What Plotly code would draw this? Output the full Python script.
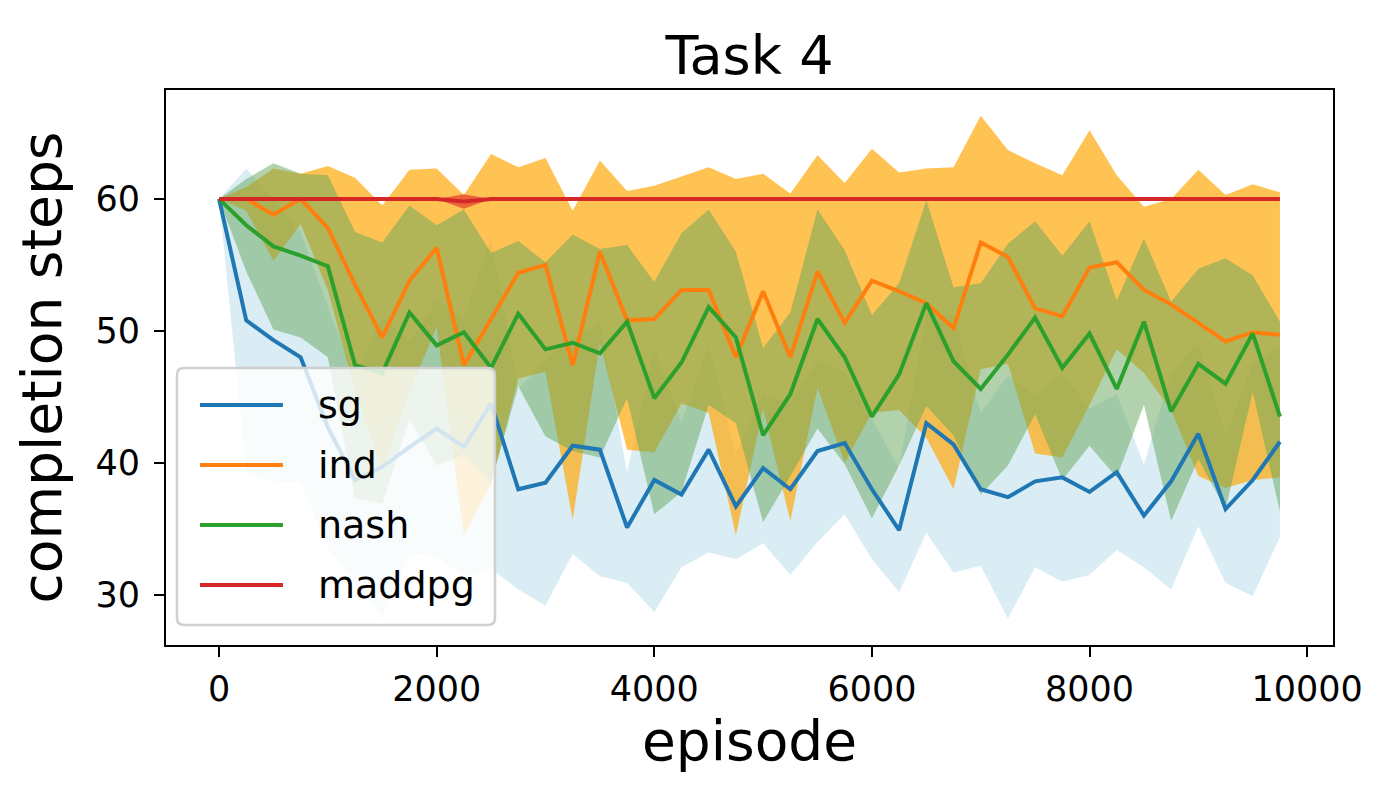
import numpy as np
import plotly.graph_objects as go

# episodes on the x axis
episodes = [0, 250, 500, 750, 1000, 1250, 1500, 1750, 2000, 2250,
            2500, 2750, 3000, 3250, 3500, 3750, 4000, 4250, 4500, 4750,
            5000, 5250, 5500, 5750, 6000, 6250, 6500, 6750, 7000, 7250,
            7500, 7750, 8000, 8250, 8500, 8750, 9000, 9250, 9500, 9750]

# mean completion steps and spread per method
sg_mean = [60.0, 50.8, 49.3, 48.0, 42.7, 38.7, 39.7, 41.2, 42.6, 41.2,
           44.5, 38.0, 38.5, 41.3, 41.0, 35.1, 38.7, 37.6, 41.0, 36.7,
           39.6, 38.0, 40.9, 41.5, 38.0, 34.9, 43.0, 41.4, 38.0, 37.4,
           38.6, 38.9, 37.8, 39.3, 36.0, 38.6, 42.2, 36.5, 38.7, 41.6]
sg_std = [0.0, 11.5, 10.7, 9.5, 9.1, 7.8, 11.4, 8.0, 9.7, 9.8,
          12.5, 7.6, 9.3, 8.2, 9.6, 4.2, 10.0, 5.5, 7.8, 4.0,
          5.7, 6.5, 6.9, 5.4, 5.3, 4.7, 8.3, 9.7, 5.8, 9.2,
          6.5, 7.9, 6.3, 5.9, 3.9, 8.2, 7.0, 5.6, 8.8, 7.2]

ind_mean = [60.0, 60.0, 58.8, 60.0, 57.8, 53.5, 49.5, 53.8, 56.3, 47.4,
            50.9, 54.4, 55.0, 47.4, 56.0, 50.8, 50.9, 53.1, 53.1, 48.0,
            53.0, 48.0, 54.5, 50.6, 53.8, 53.0, 52.1, 50.2, 56.7, 55.6,
            51.7, 51.1, 54.8, 55.2, 53.1, 52.0, 50.6, 49.2, 49.9, 49.7]
ind_std = [0.0, 0.9, 3.5, 1.9, 4.7, 8.1, 10.0, 8.4, 6.0, 12.9,
           12.5, 8.0, 8.1, 11.7, 6.9, 9.8, 10.1, 8.6, 9.3, 13.5,
           8.9, 12.4, 8.8, 10.6, 10.0, 9.0, 10.2, 12.2, 9.6, 8.1,
           11.0, 10.7, 10.4, 6.6, 6.3, 8.0, 11.6, 11.1, 11.2, 10.8]

nash_mean = [60.0, 58.0, 56.4, 55.7, 54.9, 47.4, 46.8, 51.4, 48.9, 49.9,
             47.2, 51.3, 48.6, 49.1, 48.3, 50.7, 44.9, 47.6, 51.8, 49.5,
             42.1, 45.2, 50.9, 48.0, 43.5, 46.7, 52.1, 47.7, 45.6, 48.2,
             51.0, 47.2, 49.8, 45.6, 50.7, 43.9, 47.5, 46.0, 49.8, 43.5]
nash_std = [0.0, 3.5, 6.3, 6.2, 6.9, 10.1, 9.9, 8.1, 9.1, 9.3,
            8.7, 5.5, 6.6, 8.2, 7.9, 5.8, 8.8, 9.8, 7.4, 6.5,
            6.6, 6.2, 8.3, 8.1, 7.7, 6.9, 7.8, 5.6, 8.0, 8.4,
            7.3, 8.5, 8.5, 6.7, 6.3, 8.3, 7.2, 9.5, 4.4, 7.2]

maddpg_mean = [60.0, 60.0, 60.0, 60.0, 60.0, 60.0, 60.0, 60.0, 60.0, 59.8,
               60.0, 60.0, 60.0, 60.0, 60.0, 60.0, 60.0, 60.0, 60.0, 60.0,
               60.0, 60.0, 60.0, 60.0, 60.0, 60.0, 60.0, 60.0, 60.0, 60.0,
               60.0, 60.0, 60.0, 60.0, 60.0, 60.0, 60.0, 60.0, 60.0, 60.0]
maddpg_std = [0.0, 0.0, 0.0, 0.0, 0.0, 0.0, 0.0, 0.0, 0.0, 0.55,
              0.0, 0.0, 0.0, 0.0, 0.0, 0.0, 0.0, 0.0, 0.0, 0.0,
              0.0, 0.0, 0.0, 0.0, 0.0, 0.0, 0.0, 0.0, 0.0, 0.0,
              0.0, 0.0, 0.0, 0.0, 0.0, 0.0, 0.0, 0.0, 0.0, 0.0]

methods = [
    ("sg", sg_mean, sg_std, "#1f77b4", "rgba(173,216,230,0.45)"),
    ("ind", ind_mean, ind_std, "#ff7f0e", "rgba(255,165,0,0.67)"),
    ("nash", nash_mean, nash_std, "#2ca02c", "rgba(100,165,90,0.5)"),
    ("maddpg", maddpg_mean, maddpg_std, "#d62728", "rgba(220,40,40,0.6)"),
]

fig = go.Figure()

# shaded bands first
for name, mean, std, line_color, band_color in methods:
    m = np.array(mean)
    s = np.array(std)
    hi = m + s
    lo = m - s
    fig.add_trace(go.Scatter(
        x=episodes + episodes[::-1],
        y=list(hi) + list(lo[::-1]),
        fill="toself",
        fillcolor=band_color,
        line=dict(width=0),
        mode="lines",
        hoverinfo="skip",
        showlegend=False,
    ))

# mean lines on top
for name, mean, std, line_color, band_color in methods:
    fig.add_trace(go.Scatter(
        x=episodes,
        y=mean,
        mode="lines",
        name=name,
        showlegend=False,
        line=dict(color=line_color, width=4),
    ))

# matplotlib-like legend box (drawn by hand so the line samples are long)
x0, x1 = 0.0094, 0.2819
y0, y1 = 0.036, 0.499
rx, ry = 0.006, 0.0125
box = (f"M {x0 + rx},{y0} L {x1 - rx},{y0} Q {x1},{y0} {x1},{y0 + ry} "
       f"L {x1},{y1 - ry} Q {x1},{y1} {x1 - rx},{y1} "
       f"L {x0 + rx},{y1} Q {x0},{y1} {x0},{y1 - ry} "
       f"L {x0},{y0 + ry} Q {x0},{y0} {x0 + rx},{y0} Z")
fig.add_shape(type="path", path=box, xref="paper", yref="paper",
              fillcolor="rgba(255,255,255,0.8)",
              line=dict(color="#d0d0d0", width=2.5), layer="above")

item_y = [0.4324, 0.3243, 0.2162, 0.1081]
for (name, mean, std, line_color, band_color), yy in zip(methods, item_y):
    fig.add_shape(type="line", xref="paper", yref="paper",
                  x0=0.0291, x1=0.1002, y0=yy, y1=yy,
                  line=dict(color=line_color, width=4), layer="above")
    fig.add_annotation(x=0.1285, y=yy, xref="paper", yref="paper",
                       text=name, showarrow=False,
                       xanchor="left", yanchor="middle",
                       font=dict(size=38, color="black"))

fig.update_layout(
    width=1400,
    height=800,
    paper_bgcolor="white",
    plot_bgcolor="white",
    font=dict(family="DejaVu Sans", color="black"),
    margin=dict(l=158, r=75, t=82, b=163),
    showlegend=False,
    title=dict(
        text="Task 4",
        font=dict(size=54),
        x=0.5, xref="paper", xanchor="center",
        y=1 - 47 / 800, yref="container", yanchor="middle",
    ),
)

fig.update_xaxes(
    range=[-487.5, 10237.5],
    tickvals=[0, 2000, 4000, 6000, 8000, 10000],
    tickformat="d",
    tickfont=dict(size=35),
    ticklabelstandoff=2,
    ticks="outside", ticklen=10, tickwidth=2, tickcolor="black",
    showline=True, linecolor="black", linewidth=2, mirror=True,
    showgrid=False, zeroline=False,
    title=dict(text="episode", font=dict(size=55), standoff=8),
)
fig.update_yaxes(
    range=[26.2, 68.25],
    tickvals=[30, 40, 50, 60],
    tickfont=dict(size=35),
    ticklabelstandoff=7,
    ticks="outside", ticklen=10, tickwidth=2, tickcolor="black",
    showline=True, linecolor="black", linewidth=2, mirror=True,
    showgrid=False, zeroline=False,
    title=dict(text="completion steps", font=dict(size=55), standoff=16),
)

fig.write_html("out.html")
